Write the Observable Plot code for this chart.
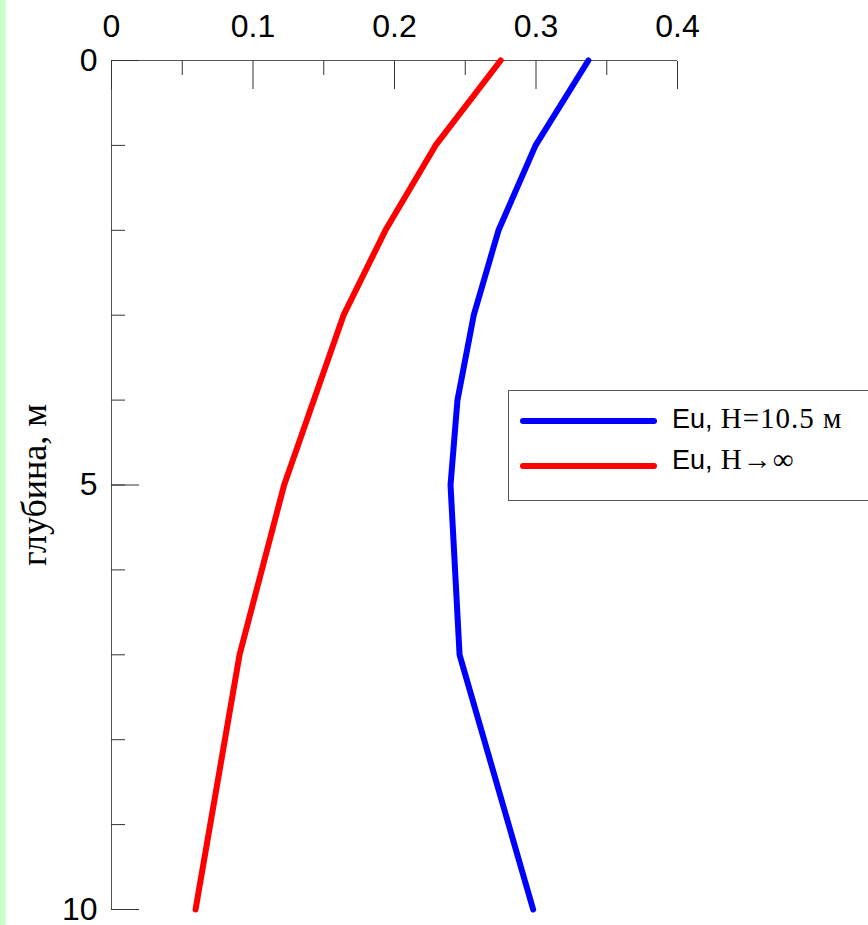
<!DOCTYPE html>
<html><head><meta charset="utf-8">
<script src="https://cdn.jsdelivr.net/npm/d3@7"></script>
<script src="https://cdn.jsdelivr.net/npm/@observablehq/plot@0.6"></script>
<style>
html,body{margin:0;padding:0;background:#fff;}
#wrap{position:relative;width:868px;height:925px;overflow:hidden;}
#strip{position:absolute;left:0;top:0;width:6px;height:925px;background:#ccffcc;}
#chart{position:absolute;left:0;top:0;}
#legend{position:absolute;left:508px;top:390px;width:420px;height:111px;border:1px solid #555;background:#fff;box-sizing:border-box;}
.lrow{position:absolute;left:0;height:30px;line-height:30px;white-space:nowrap;}
.lline{position:absolute;left:11px;width:137px;height:6px;border-radius:3px;}
.ltext{position:absolute;left:163px;top:0;font-family:"Liberation Sans",Arial,sans-serif;font-size:27px;color:#000;}
.ltext .serif{font-family:"Liberation Serif","Times New Roman",serif;font-size:29px;letter-spacing:1px;}
</style></head><body>
<div id="wrap"><div id="strip"></div><div id="chart"></div><div id="legend"></div></div>
<script>
// data
const depth = [0, 1, 2, 3, 4, 5, 7, 10];
const euFinite = [0.337, 0.2997, 0.2735, 0.256, 0.2445, 0.2396, 0.246, 0.298];
const euInfinite = [0.275, 0.229, 0.1936, 0.164, 0.143, 0.122, 0.0905, 0.0594];
const seriesNames = ["Eu, H=10.5 м", "Eu, H→∞"];
const seriesColors = ["#0000ff", "#ff0000"];
const xTicks = [0, 0.1, 0.2, 0.3, 0.4];
const xMinorTicks = [0.05, 0.15, 0.25, 0.35];
const yTicks = [0, 1, 2, 3, 4, 5, 6, 7, 8, 9, 10];
const yLabelTicks = [0, 5, 10];
const yAxisLabel = "глубина, м";

const rows = [];
depth.forEach((d, i) => rows.push({depth: d, eu: euFinite[i], series: seriesNames[0]}));
depth.forEach((d, i) => rows.push({depth: d, eu: euInfinite[i], series: seriesNames[1]}));

const chart = Plot.plot({
  width: 868, height: 925,
  marginLeft: 111, marginRight: 191, marginTop: 60, marginBottom: 16,
  style: {background: "transparent", fontFamily: "'Liberation Sans', Arial, sans-serif", overflow: "visible", color: "#000"},
  x: {domain: [0, 0.4]},
  y: {domain: [0, 10], reverse: true},
  color: {domain: seriesNames, range: seriesColors},
  marks: [
    Plot.ruleY([0], {stroke: "#555"}),
    Plot.ruleX([0], {stroke: "#555"}),
    Plot.axisX(xTicks, {anchor: "top", tickSize: -28, fill: "none", stroke: "#333", label: null}),
    Plot.axisX(xMinorTicks, {anchor: "top", tickSize: -14, fill: "none", stroke: "#333", label: null}),
    Plot.axisX(xTicks, {anchor: "top", tickSize: 0, tickPadding: 24, fontSize: 32, fill: "#000", label: null,
      tickFormat: d => d === 0 ? "0" : d.toFixed(1)}),
    Plot.axisY(yTicks, {anchor: "left", tickSize: -14, fill: "none", stroke: "#333", label: null}),
    Plot.axisY(yLabelTicks, {anchor: "left", tickSize: -28, fill: "none", stroke: "#333", label: null}),
    Plot.axisY(yLabelTicks, {anchor: "left", tickSize: 0, tickPadding: 14, fontSize: 32, fill: "#000", label: null,
      tickFormat: d => String(d)}),
    Plot.text([yAxisLabel], {frameAnchor: "left", y: () => 5, text: d => d, dx: -77, rotate: -90,
      textAnchor: "middle", lineAnchor: "middle",
      fontSize: 36, fontFamily: "'Liberation Serif', 'Times New Roman', serif", fill: "#000"}),
    Plot.line(rows, {x: "eu", y: "depth", stroke: "series", z: "series", strokeWidth: 6,
      strokeLinecap: "round", strokeLinejoin: "round"})
  ]
});
document.getElementById("chart").appendChild(chart);

// legend
const legend = document.getElementById("legend");
const rowTops = [12, 53];
const lineTops = [15, 19];
seriesNames.forEach((name, i) => {
  const row = document.createElement("div");
  row.className = "lrow";
  row.style.top = rowTops[i] + "px";
  row.style.width = "400px";
  const line = document.createElement("div");
  line.className = "lline";
  line.style.background = seriesColors[i];
  line.style.top = lineTops[i] + "px";
  row.appendChild(line);
  const txt = document.createElement("div");
  txt.className = "ltext";
  const parts = name.split(", ");
  const a = document.createElement("span");
  a.textContent = parts[0] + ",";
  const b = document.createElement("span");
  b.className = "serif";
  b.textContent = " " + parts[1];
  txt.appendChild(a); txt.appendChild(b);
  row.appendChild(txt);
  legend.appendChild(row);
});
</script>
</body></html>
